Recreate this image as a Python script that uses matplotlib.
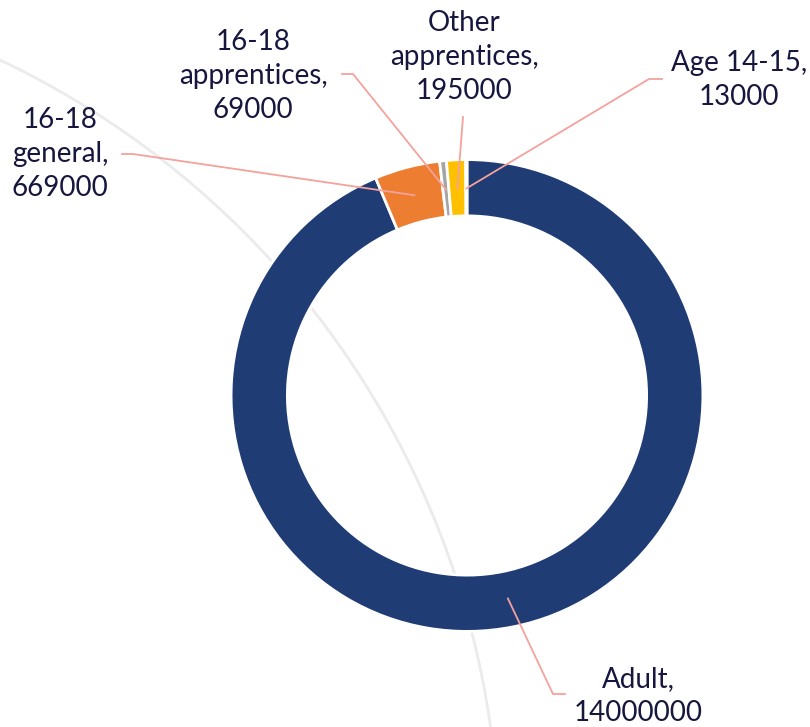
import numpy as np
import matplotlib
matplotlib.use("Agg")
from matplotlib import pyplot as plt
from matplotlib.patches import Arc

# data
labels = ["Adult", "16-18 general", "16-18 apprentices", "Other apprentices", "Age 14-15"]
values = [14000000, 669000, 69000, 195000, 13000]
colors = ["#203C75", "#ED7D31", "#A5A5A5", "#FFC000", "#5B9BD5"]

plt.rcParams['font.family'] = ['Lato', 'DejaVu Sans']

W, H = 810, 727
CX, CY, R = 467, 395.5, 234.5   # donut centre / radius in pixels


def px(x, y):  # pixel -> data coords
    return (x - CX) / R, (CY - y) / R


fig = plt.figure(figsize=(W / 100, H / 100), dpi=100)
ax = fig.add_axes([0, 0, 1, 1])

# faint decorative arc in the background
ac = px(-373.6, 848.7)
ax.add_patch(Arc(ac, 2 * 872.7 / R, 2 * 872.7 / R, theta1=0, theta2=90,
                 color="#EBEBEB", lw=2.0, zorder=0))

wedges, _ = ax.pie(values, colors=colors, startangle=90, counterclock=False,
                   radius=1.006,
                   wedgeprops=dict(width=0.24, edgecolor="white", linewidth=2))

ax.set_xlim(px(0, 0)[0], px(W, 0)[0])
ax.set_ylim(px(0, H)[1], px(0, 0)[1])
ax.set_aspect("equal")
ax.axis("off")

# label text position, elbow start, elbow end (pixels)
label_pos = {
    "Adult": ((638, 696), (565, 694), (553, 694)),
    "16-18 general": ((60, 154), (122, 154), (133, 154)),
    "16-18 apprentices": ((253, 76), (342, 74), (353, 74)),
    "Other apprentices": ((464, 57), (463, 117), (463, 117)),
    "Age 14-15": ((739, 80), (662, 79), (649, 79)),
}

text_col = "#16163F"
line_col = "#F4A29C"
for w, lab, val in zip(wedges, labels, values):
    mid = np.deg2rad((w.theta1 + w.theta2) / 2)
    rm = 0.883
    ex, ey = rm * np.cos(mid), rm * np.sin(mid)
    (tx, ty), p1, p2 = label_pos[lab]
    a = px(*p1)
    b = px(*p2)
    ax.plot([a[0], b[0], ex], [a[1], b[1], ey], color=line_col, lw=1.3, zorder=5)
    if lab == "Age 14-15":
        txt = "Age 14-15,\n" + str(val)
    elif lab == "Adult":
        txt = "Adult,\n" + str(val)
    else:
        parts = lab.split(" ", 1)
        txt = parts[0] + "\n" + parts[1] + ",\n" + str(val)
    x, y = px(tx, ty)
    ax.text(x, y, txt, ha="center", va="center", fontsize=20,
            color=text_col, linespacing=1.4)

plt.savefig("out.png", dpi=100, facecolor="white")
